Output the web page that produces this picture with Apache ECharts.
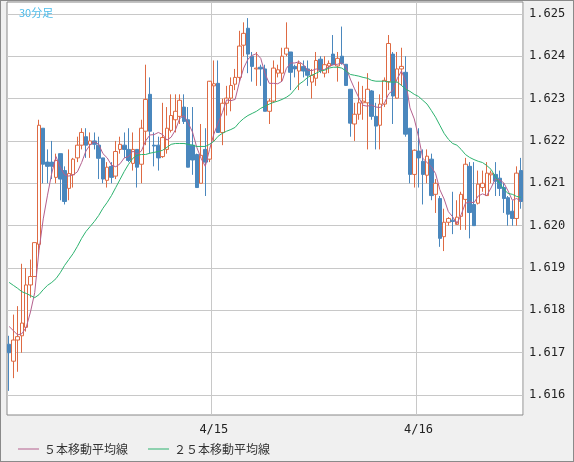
<!DOCTYPE html>
<html><head><meta charset="utf-8">
<script src="https://cdn.jsdelivr.net/npm/echarts@6/dist/echarts.min.js"></script>
<style>html,body{margin:0;padding:0;background:#f0f0f0}#c{width:574px;height:462px;box-sizing:border-box;border:1px solid #8a8a8a}</style>
</head><body><div id="c"></div>
<script>
// 30分足 ローソク足 (open, close, low, high)
var opens = [1.6172,1.6168,1.6173,1.6174,1.6176,1.6186,1.6188,1.61956,1.6223,1.6215,1.6215,1.62114,1.6217,1.6213,1.62088,1.6212,1.6216,1.6219,1.6221,1.62192,1.6220,1.6219,
  1.6216,1.62107,1.6214,1.62117,1.6218,1.6219,1.6218,1.62147,1.6218,1.62145,1.62223,1.6231,1.6219,1.6219,1.62163,1.6218,1.62225,1.6225,1.62258,1.6228,1.6225,1.6219,1.62168,1.6210,1.6218,
  1.62157,1.6233,1.62336,1.6222,1.62289,1.62301,1.62334,1.6235,1.62426,1.62466,1.6240,1.6237,1.62374,1.6237,1.6227,1.62294,1.6236,1.6236,1.62405,1.6241,1.62376,1.62365,1.62376,1.6237,
  1.62339,1.62348,1.62393,1.6236,1.62377,1.62405,1.62377,1.6240,1.62381,1.62322,1.6224,1.62263,1.6229,1.6229,1.62318,1.62258,1.62237,1.62287,1.6234,1.62405,1.62301,1.6237,1.62362,1.6223,
  1.62121,1.62176,1.62152,1.62119,1.62157,1.62074,1.62064,1.61974,1.62008,1.62013,1.62003,1.62022,1.62062,1.6214,1.6205,1.62053,1.6209,1.62071,1.6212,1.62121,1.62112,1.6209,1.62066,1.62034,1.62017,1.6213];
var closes = [1.6170,1.6173,1.61738,1.6177,1.6186,1.6188,1.6196,1.62237,1.62145,1.6214,1.6214,1.62154,1.6211,1.62057,1.62123,1.62157,1.6219,1.6222,1.6219,1.6220,1.62192,1.62159,
  1.6211,1.62138,1.62114,1.62175,1.62192,1.6218,1.62154,1.6218,1.62138,1.6223,1.62298,1.62223,1.62188,1.6216,1.62208,1.6223,1.6226,1.6227,1.62296,1.62246,1.62138,1.62155,1.6209,1.62166,1.6215,
  1.62341,1.62335,1.6222,1.62289,1.62301,1.62331,1.6235,1.62424,1.62454,1.62405,1.62376,1.62372,1.6237,1.6227,1.62294,1.62372,1.62368,1.6240,1.62419,1.62362,1.6237,1.62383,1.62365,1.62355,
  1.62355,1.6239,1.62367,1.6238,1.62383,1.6238,1.62395,1.62383,1.62331,1.62242,1.62263,1.6229,1.62294,1.62322,1.62258,1.62235,1.62287,1.62343,1.6243,1.62306,1.6237,1.62376,1.62216,1.62121,
  1.62178,1.6216,1.62121,1.62164,1.62071,1.621,1.6197,1.62008,1.62017,1.6201,1.6202,1.62074,1.62145,1.62031,1.6200,1.62098,1.6210,1.62124,1.62124,1.62105,1.62088,1.62064,1.62027,1.62017,1.62124,1.62057];
var lows = [1.6161,1.6164,1.61655,1.6170,1.6175,1.6183,1.6188,1.6193,1.6210,1.6210,1.6211,1.6210,1.6206,1.6205,1.6206,1.6209,1.6215,1.6218,1.6216,1.6216,1.6218,1.6211,
  1.6210,1.6209,1.6210,1.6211,1.6217,1.6216,1.6215,1.6213,1.6209,1.6210,1.6219,1.6217,1.6214,1.6213,1.6216,1.6217,1.6222,1.6222,1.6224,1.6224,1.6214,1.6212,1.6209,1.6210,1.6207,
  1.6215,1.6220,1.6222,1.6219,1.6226,1.6227,1.6232,1.6234,1.6240,1.6236,1.6234,1.6233,1.6233,1.6227,1.6224,1.6229,1.6235,1.6234,1.6240,1.6232,1.6235,1.6232,1.6235,1.6233,
  1.6230,1.6233,1.6236,1.6235,1.6236,1.6238,1.6234,1.6238,1.6233,1.6221,1.6220,1.6225,1.6225,1.6218,1.6225,1.6218,1.6218,1.6228,1.6232,1.6224,1.6230,1.6233,1.6221,1.6210,
  1.6209,1.6209,1.6205,1.6210,1.6206,1.6203,1.6195,1.6194,1.6200,1.6198,1.6201,1.6199,1.6199,1.6197,1.6200,1.6205,1.6208,1.6207,1.6210,1.6207,1.6207,1.6203,1.6200,1.6200,1.6200,1.6204];
var highs = [1.6174,1.6179,1.6181,1.6191,1.6190,1.6192,1.6196,1.6225,1.6223,1.6218,1.6220,1.6217,1.6217,1.6214,1.6218,1.6216,1.6221,1.6223,1.6223,1.6222,1.6222,1.6221,
  1.6216,1.6215,1.6215,1.6220,1.6221,1.6222,1.6223,1.6222,1.6218,1.6225,1.6238,1.6235,1.6222,1.6221,1.6229,1.6228,1.6231,1.6231,1.6231,1.6231,1.6228,1.6228,1.6217,1.6224,1.6223,
  1.6234,1.6239,1.6239,1.6230,1.6233,1.6235,1.6237,1.6246,1.6248,1.6249,1.6241,1.6241,1.6238,1.6238,1.6230,1.6239,1.6238,1.6242,1.6248,1.6241,1.6238,1.6239,1.6239,1.6239,
  1.6237,1.6241,1.6240,1.6240,1.6239,1.6245,1.6241,1.6247,1.6238,1.6232,1.6229,1.6234,1.6233,1.6236,1.6232,1.6229,1.6231,1.6235,1.6245,1.6241,1.6241,1.6242,1.6240,1.6223,
  1.6218,1.6223,1.6218,1.6218,1.6217,1.6211,1.6207,1.6204,1.6202,1.6208,1.6206,1.6208,1.6216,1.6215,1.6215,1.6213,1.6213,1.6215,1.6213,1.6215,1.6213,1.6210,1.6207,1.6206,1.6214,1.6216];
// 25本移動平均線 (読み取り値)
var ma25 = [1.61866,1.61859,1.61852,1.61844,1.6184,1.61835,1.6183,1.61837,1.61849,1.61859,1.61866,1.61875,1.61889,1.61906,1.6192,1.61934,1.61951,1.6197,1.61986,1.61998,
  1.6201,1.62024,1.62041,1.62055,1.62071,1.6209,1.62109,1.62128,1.62145,1.62159,1.62166,1.62168,1.62168,1.62171,1.62173,1.62175,1.62178,1.62185,1.62192,1.62194,
  1.62194,1.62194,1.62192,1.6219,1.62187,1.62187,1.62187,1.62192,1.62199,1.62211,1.62218,1.62223,1.62227,1.62232,1.62244,1.62253,1.6226,1.62265,1.6227,1.62277,
  1.62282,1.62287,1.62291,1.62294,1.62298,1.62303,1.6231,1.62322,1.62334,1.62341,1.6235,1.62355,1.6236,1.62365,1.62367,1.62372,1.62374,1.62374,1.62372,1.62365,
  1.62357,1.62355,1.62353,1.6235,1.62348,1.62343,1.62341,1.62341,1.62341,1.62339,1.62339,1.62339,1.62331,1.62322,1.62317,1.6231,1.62305,1.62296,1.62287,1.62272,
  1.62256,1.62237,1.62218,1.62204,1.62194,1.6219,1.6218,1.62168,1.62161,1.62156,1.62152,1.62149,1.62142,1.62133,1.62116,1.621,1.62086,1.62076,1.62074,1.62069,1.62067];
var ma5Head = [1.61762,1.61752,1.61742,1.61745]; // 先頭4本は画面から読み取り
var priceTicks = [1.616,1.617,1.618,1.619,1.620,1.621,1.622,1.623,1.624,1.625];
var dayLabels = {48: '4/15', 96: '4/16'};

var ohlc = [], ma5 = [], times = [];
for (var i = 0; i < opens.length; i++) {
    ohlc.push([opens[i], closes[i], lows[i], highs[i]]);
    times.push(dayLabels[i] || String(i));
    if (i < 4) { ma5.push(ma5Head[i]); }
    else {
        var s = 0;
        for (var k = i - 4; k <= i; k++) s += closes[k];
        ma5.push(+(s / 5).toFixed(5));
    }
}

var mychart = echarts.init(document.getElementById('c'));
var option = {
    animation: false,
    backgroundColor: '#f0f0f0',
    title: {text: '30分足', left: 13, top: 1, textStyle: {color: '#4bbbea', fontSize: 11, fontWeight: 'normal', fontFamily: 'Noto Sans CJK JP'}},
    legend: {
        left: 12, top: 437, itemWidth: 21, itemHeight: 1, itemGap: 20, icon: 'rect',
        textStyle: {fontSize: 12, color: '#333', fontFamily: 'Noto Sans CJK JP'},
        data: ['５本移動平均線', '２５本移動平均線']
    },
    grid: {left: 6, right: 50, top: 1, bottom: 46, show: true, backgroundColor: '#fff', borderColor: '#888', borderWidth: 1},
    xAxis: {
        type: 'category', data: times, boundaryGap: true,
        axisLine: {show: false}, axisTick: {show: false},
        axisLabel: {
            interval: function (idx) { return !!dayLabels[idx]; },
            color: '#222', fontSize: 12, fontFamily: 'DejaVu Sans Mono', margin: 9
        },
        splitLine: {show: true, interval: function (idx) { return !!dayLabels[idx]; }, lineStyle: {color: '#c8c8c8'}}
    },
    yAxis: {
        type: 'value', position: 'right', min: 1.61553, max: 1.62528,
        axisLine: {show: false},
        axisTick: {show: false, customValues: priceTicks},
        axisLabel: {customValues: priceTicks, margin: 6, color: '#222', fontSize: 12, fontFamily: 'DejaVu Sans Mono',
            formatter: function (v) { return v.toFixed(3); }},
        splitLine: {show: true, lineStyle: {color: '#c8c8c8'}}
    },
    series: [
        {
            type: 'candlestick', data: ohlc, barWidth: 4,
            itemStyle: {color: '#fff', color0: '#4a87bd', borderColor: '#de6a43', borderColor0: '#4a87bd', borderWidth: 1},
            z: 3
        },
        {name: '５本移動平均線', type: 'line', data: ma5, symbol: 'none', lineStyle: {color: '#b4608e', width: 1}, itemStyle: {color: '#b4608e'}, z: 4},
        {name: '２５本移動平均線', type: 'line', data: ma25, symbol: 'none', lineStyle: {color: '#2db36f', width: 1}, itemStyle: {color: '#2db36f'}, z: 4}
    ]
};
mychart.setOption(option);
</script></body></html>
